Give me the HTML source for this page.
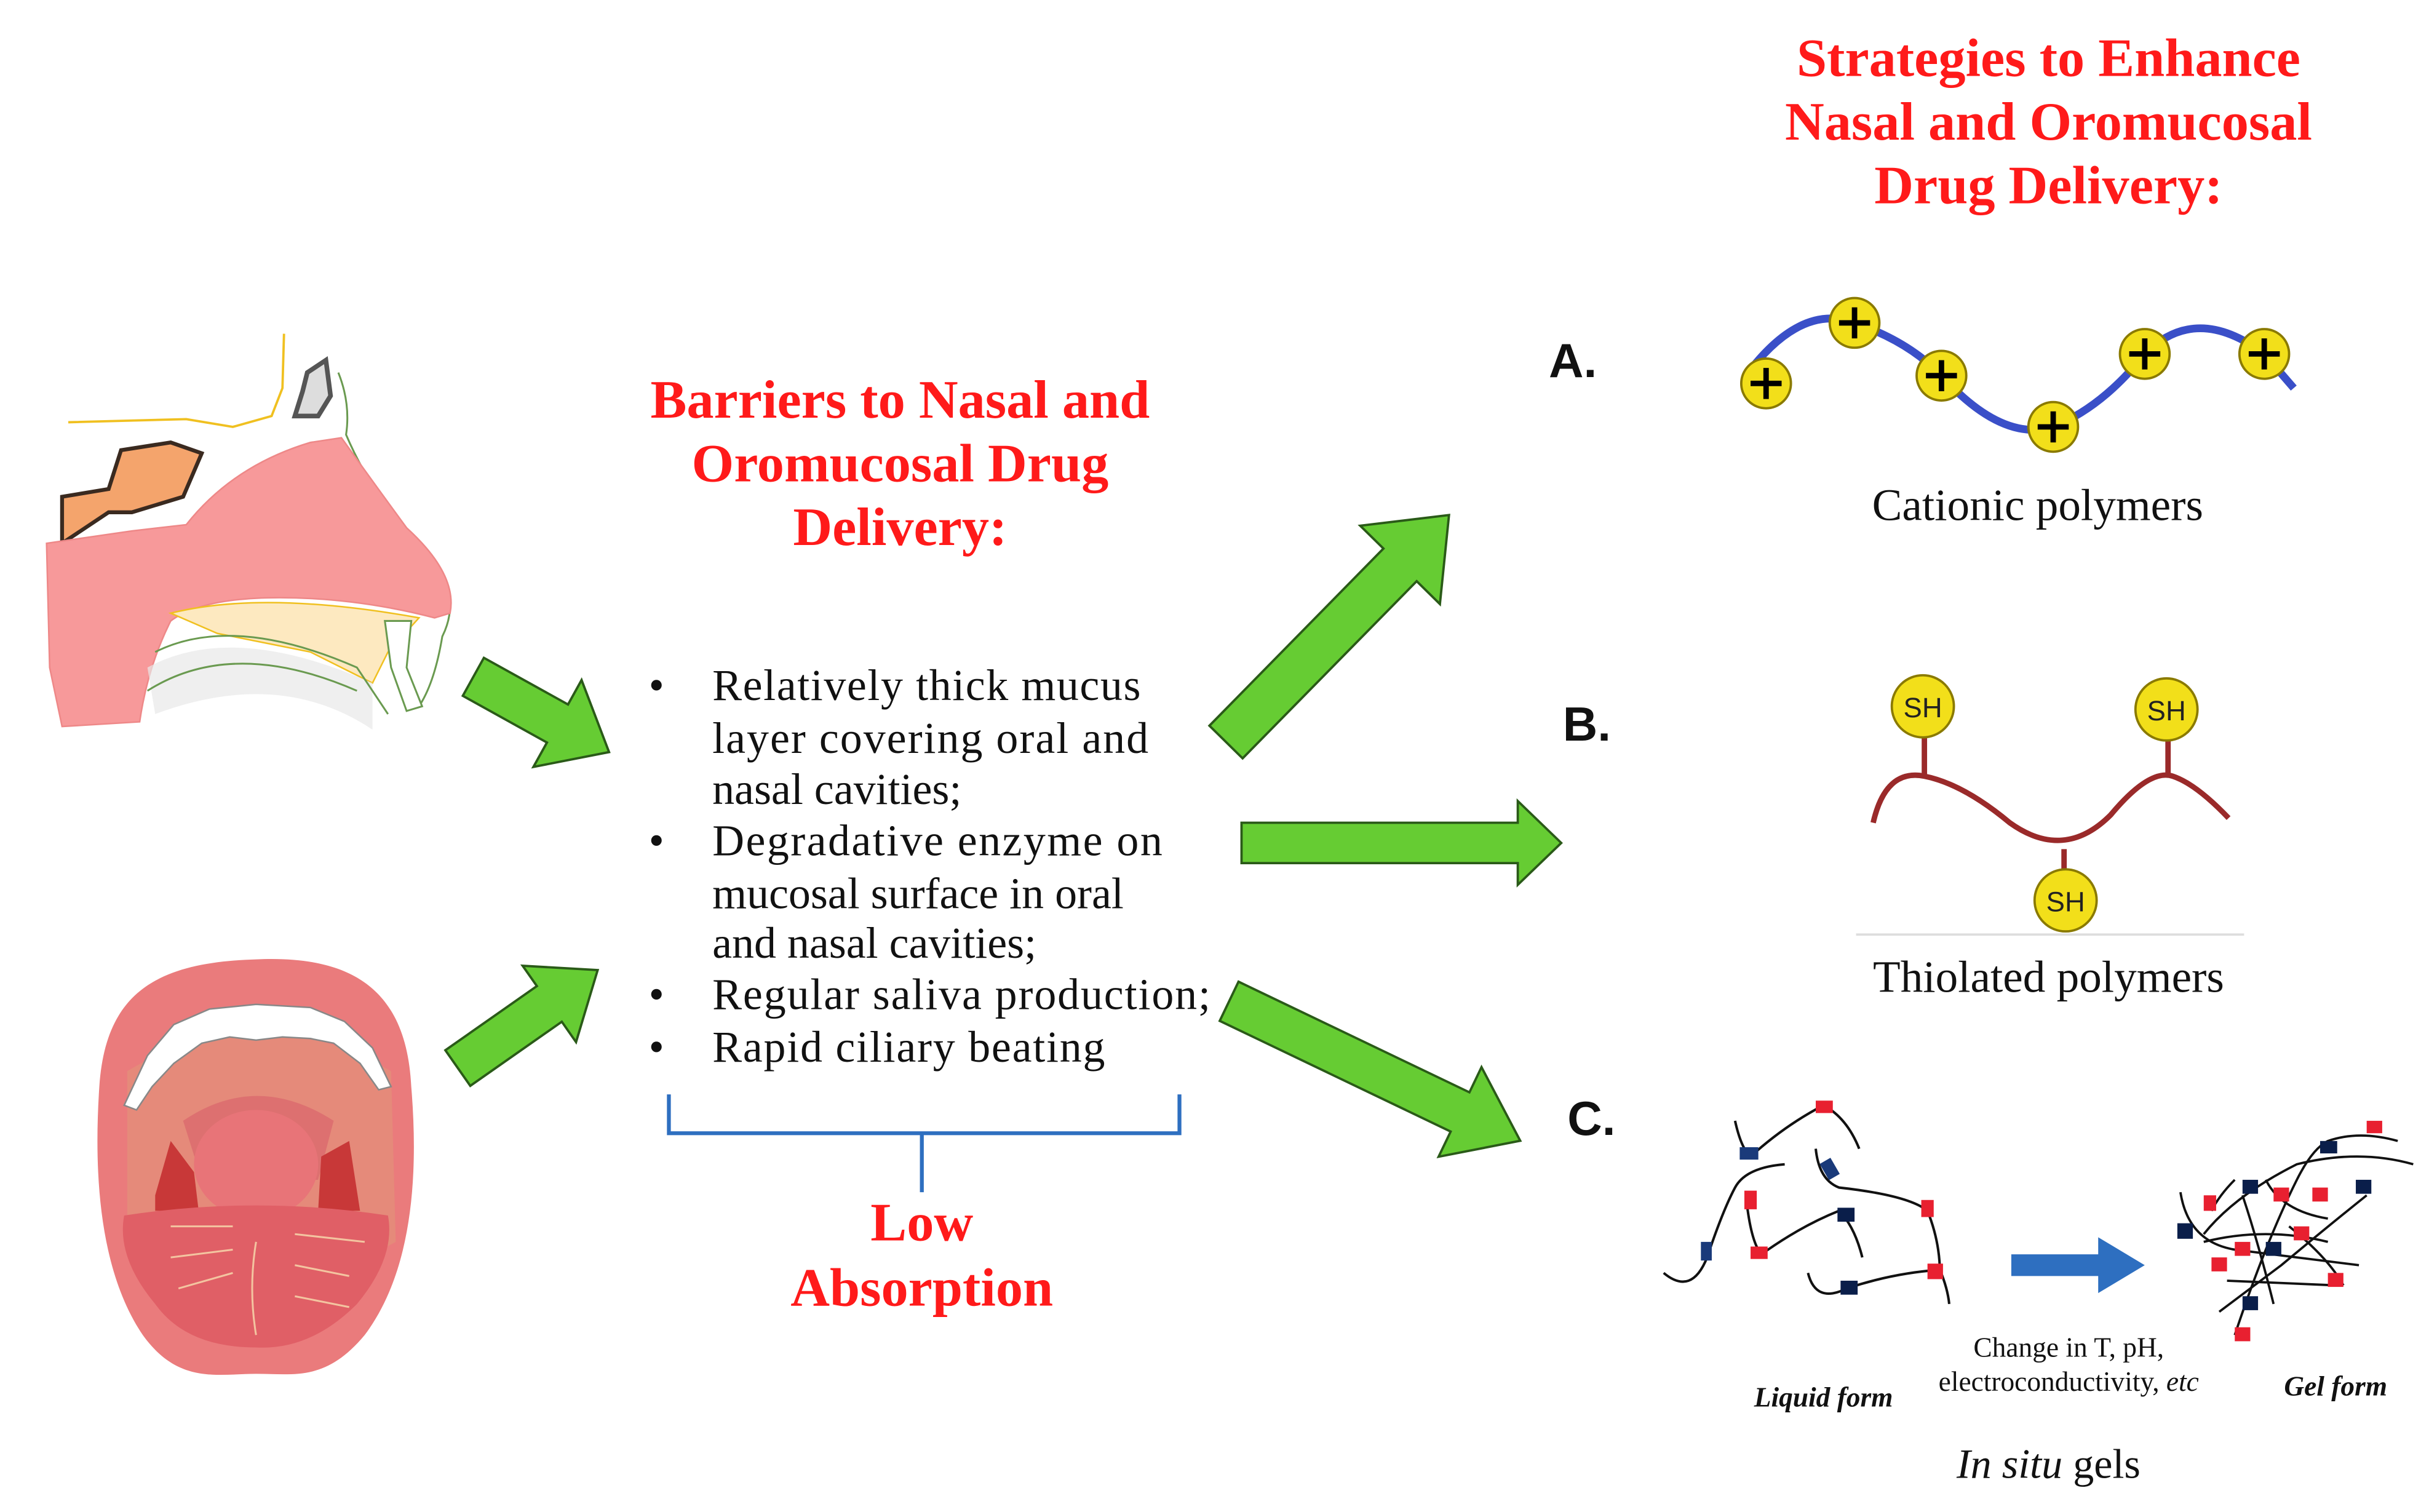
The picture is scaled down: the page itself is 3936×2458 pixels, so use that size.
<!DOCTYPE html>
<html><head><meta charset="utf-8"><style>
html,body{margin:0;padding:0;background:#fff;}
svg{display:block;}
.t{font-family:"Liberation Serif",serif;}
.rb{font-family:"Liberation Serif",serif;font-weight:bold;fill:#ff1a1a;font-size:35px;text-anchor:middle;}
.bl{font-family:"Liberation Serif",serif;font-size:28.5px;fill:#111;}
.lab{font-family:"Liberation Sans",sans-serif;font-weight:bold;font-size:31px;fill:#111;}
</style></head><body>
<svg width="3936" height="2458" viewBox="0 0 1560 974" preserveAspectRatio="none" xmlns="http://www.w3.org/2000/svg">
<rect width="1560" height="974" fill="#fff"/>

<!-- Nasal illustration -->
<g>
<path d="M44,272 L120,270 L150,275 L175,268 L182,250 L183,215" fill="none" stroke="#f0c020" stroke-width="1.5"/>
<path d="M198,240 L210,232 L213,255 L205,268 L190,268 L195,252 Z" fill="#ddd" stroke="#555" stroke-width="3"/>
<path d="M218,240 Q226,260 223,280 Q240,320 270,350 Q300,380 285,410 Q280,440 270,455" fill="none" stroke="#6a9a50" stroke-width="1.2"/>
<path d="M40,350 L40,320 L70,315 L78,290 L110,285 L130,292 L118,320 L85,330 L70,330 Z" fill="#f4a46c" stroke="#3a2a20" stroke-width="2.5"/>
<path d="M30,350 L85,342 L120,338 Q150,300 200,285 L220,282 Q240,310 262,340 Q295,370 290,395 L280,398 Q230,385 180,385 Q130,385 110,400 Q95,430 90,465 L40,468 L32,430 Z" fill="#f7999a" stroke="#e88" stroke-width="1"/>
<path d="M110,395 Q170,380 270,398 L250,420 L240,440 L200,420 L140,408 Z" fill="#fde9c0" stroke="#f0c020" stroke-width="1"/>
<path d="M95,430 Q150,400 240,440 L240,470 Q180,430 100,460 Z" fill="#e8e8e8" opacity="0.7"/>
<path d="M100,420 Q150,395 230,430 L250,460 M95,445 Q150,410 230,445" fill="none" stroke="#6a9a50" stroke-width="1.2"/>
<path d="M248,400 L265,400 L262,430 L272,455 L262,458 L252,430 Z" fill="#fff" stroke="#6a9a50" stroke-width="1.2"/>
</g>

<!-- Mouth illustration -->
<g>
<path d="M165,618 C230,615 262,640 265,700 C270,760 265,820 235,860 C210,890 190,885 165,885 C140,885 115,892 92,860 C65,820 60,760 64,700 C68,640 100,620 165,618 Z" fill="#ea7b7c"/>
<path d="M82,690 Q165,640 252,690 L255,800 Q200,830 165,830 Q120,830 82,800 Z" fill="#e58a7a"/>
<path d="M80,712 L95,680 L112,660 L135,650 L165,647 L200,649 L222,658 L240,675 L252,700 L244,702 L232,685 L215,672 L200,669 L182,668 L165,670 L148,668 L130,672 L112,685 L98,700 L88,715 Z" fill="#fff" stroke="#888" stroke-width="1"/>
<path d="M118,722 Q165,690 215,722 L205,760 L130,760 Z" fill="#dd7070"/>
<ellipse cx="165" cy="750" rx="40" ry="35" fill="#e87478"/>
<path d="M100,770 L110,735 L125,755 L128,780 L100,780 Z" fill="#c83838"/>
<path d="M205,780 L207,745 L225,735 L232,780 Z" fill="#c83838"/>
<path d="M80,783 Q165,770 250,783 Q255,810 230,840 Q200,870 165,868 Q120,868 100,840 Q75,810 80,783 Z" fill="#e05f66"/>
<path d="M165,800 Q160,830 165,860 M110,790 L150,790 M110,810 L150,805 M115,830 L150,820 M190,795 L235,800 M190,815 L225,822 M190,835 L225,842" fill="none" stroke="#f3c4a0" stroke-width="1.2"/>
</g>

<!-- Green arrows -->
<g fill="#66cc33" stroke="#2a5a18" stroke-width="1.5">
<polygon transform="translate(305,436) rotate(29)" points="0,-14 62,-14 62,-32 100,0 62,32 62,14 0,14"/>
<polygon transform="translate(295,688) rotate(-35)" points="0,-14 72,-14 72,-30 110,0 72,30 72,14 0,14"/>
<polygon transform="translate(790,478) rotate(-45.5)" points="0,-15 160,-15 160,-36 205,0 160,36 160,15 0,15"/>
<polygon transform="translate(800,543) rotate(0)" points="0,-13 178,-13 178,-27 206,0 178,27 178,13 0,13"/>
<polygon transform="translate(792,645) rotate(25.6)" points="0,-14 165,-14 165,-32 208,0 165,32 165,14 0,14"/>
</g>

<!-- Center texts -->
<text class="rb" x="580" y="269">Barriers to Nasal and</text>
<text class="rb" x="580" y="310">Oromucosal Drug</text>
<text class="rb" x="580" y="351">Delivery:</text>

<g class="bl">
<text x="418" y="451">•</text><text x="459" y="451" textLength="276" lengthAdjust="spacing">Relatively thick mucus</text>
<text x="459" y="485" textLength="281" lengthAdjust="spacing">layer covering oral and</text>
<text x="459" y="518">nasal cavities;</text>
<text x="418" y="551">•</text><text x="459" y="551" textLength="290" lengthAdjust="spacing">Degradative enzyme on</text>
<text x="459" y="585">mucosal surface in oral</text>
<text x="459" y="617">and nasal cavities;</text>
<text x="418" y="650">•</text><text x="459" y="650" textLength="321" lengthAdjust="spacing">Regular saliva production;</text>
<text x="418" y="684">•</text><text x="459" y="684" textLength="253" lengthAdjust="spacing">Rapid ciliary beating</text>
</g>

<path d="M431,705 L431,730 L594,730 L594,768 M594,730 L760,730 L760,705" fill="none" stroke="#2e6fc0" stroke-width="2.5"/>
<text class="rb" x="594" y="799">Low</text>
<text class="rb" x="594" y="841">Absorption</text>

<!-- Right title -->
<text class="rb" x="1320" y="49">Strategies to Enhance</text>
<text class="rb" x="1320" y="90">Nasal and Oromucosal</text>
<text class="rb" x="1320" y="131">Drug Delivery:</text>

<text class="lab" x="998" y="243">A.</text>
<text class="lab" x="1007" y="477">B.</text>
<text class="lab" x="1010" y="731">C.</text>

<!-- Cationic polymer -->
<path d="M1125,242 Q1160,195 1195,208 Q1230,220 1251,242 Q1290,285 1323,275 Q1355,262 1382,228 Q1415,195 1459,228 L1478,250" fill="none" stroke="#3a4fc8" stroke-width="5"/>
<g fill="#f2df1a" stroke="#8a7a00" stroke-width="1.5">
<circle cx="1138" cy="247" r="16"/><circle cx="1195" cy="208" r="16"/><circle cx="1251" cy="242" r="16"/>
<circle cx="1323" cy="275" r="16"/><circle cx="1382" cy="228" r="16"/><circle cx="1459" cy="228" r="16"/>
</g>
<g stroke="#000" stroke-width="3.5">
<path d="M1128,247h20M1138,237v20 M1185,208h20M1195,198v20 M1241,242h20M1251,232v20 M1313,275h20M1323,265v20 M1372,228h20M1382,218v20 M1449,228h20M1459,218v20"/>
</g>
<text class="t" x="1313" y="335" font-size="29" text-anchor="middle" fill="#111">Cationic polymers</text>

<!-- Thiolated polymer -->
<path d="M1207,530 Q1215,495 1240,500 Q1265,505 1295,530 Q1330,555 1360,525 Q1385,495 1400,500 Q1415,505 1436,527" fill="none" stroke="#9a2a2a" stroke-width="3.5"/>
<path d="M1240,500 V473 M1397,500 V477 M1330,547 V562" stroke="#9a2a2a" stroke-width="3.5"/>
<g fill="#f2df1a" stroke="#8a7a00" stroke-width="1.5">
<circle cx="1239" cy="455" r="20"/><circle cx="1396" cy="457" r="20"/><circle cx="1331" cy="580" r="20"/>
</g>
<g font-family="Liberation Sans,sans-serif" font-size="18" text-anchor="middle" fill="#222">
<text x="1239" y="462">SH</text><text x="1396" y="464">SH</text><text x="1331" y="587">SH</text>
</g>
<line x1="1196" y1="602" x2="1446" y2="602" stroke="#ddd" stroke-width="1.5"/>
<text class="t" x="1320" y="639" font-size="29" text-anchor="middle" fill="#111">Thiolated polymers</text>

<!-- In situ gels: liquid -->
<g fill="none" stroke="#111" stroke-width="1.6">
<path d="M1118,722 Q1122,740 1128,745 Q1150,725 1175,712 Q1190,720 1198,740"/>
<path d="M1072,820 Q1090,835 1100,810 Q1110,780 1118,765 Q1125,752 1150,750"/>
<path d="M1170,740 Q1172,760 1185,765 Q1230,770 1242,780 Q1250,800 1250,820"/>
<path d="M1125,770 Q1128,800 1135,808 Q1160,790 1185,780 Q1195,790 1200,810"/>
<path d="M1165,820 Q1170,840 1190,830 Q1220,820 1250,818 Q1255,830 1256,840"/>
</g>
<g stroke="none">
<rect x="1121" y="739" width="12" height="8" fill="#1a3a7a"/>
<rect x="1170" y="709" width="11" height="8" fill="#e82030"/>
<rect x="1175" y="747" width="8" height="12" fill="#1a3a7a" transform="rotate(-30 1179 753)"/>
<rect x="1124" y="767" width="8" height="12" fill="#e82030"/>
<rect x="1096" y="800" width="7" height="12" fill="#1a3a7a"/>
<rect x="1128" y="803" width="11" height="8" fill="#e82030"/>
<rect x="1184" y="778" width="11" height="9" fill="#0a1e4a"/>
<rect x="1238" y="773" width="8" height="11" fill="#e82030"/>
<rect x="1186" y="825" width="11" height="9" fill="#0a1e4a"/>
<rect x="1242" y="814" width="10" height="10" fill="#e82030"/>
</g>
<polygon points="1296,808 1352,808 1352,797 1382,815 1352,833 1352,822 1296,822" fill="#2e6fc0"/>
<g fill="none" stroke="#111" stroke-width="1.5">
<path d="M1405,768 Q1410,800 1440,805 Q1480,810 1520,815"/>
<path d="M1420,795 Q1440,770 1480,750 Q1520,740 1555,750"/>
<path d="M1440,860 Q1460,800 1480,760 Q1490,740 1500,735 Q1520,728 1545,735"/>
<path d="M1430,845 Q1450,830 1470,815 Q1500,790 1525,770"/>
<path d="M1445,770 Q1455,800 1465,840 M1475,790 Q1500,810 1510,828 M1420,800 Q1460,790 1500,800 M1460,760 Q1470,780 1500,785"/>
<path d="M1435,825 L1505,828 M1425,780 Q1430,770 1440,760"/>
</g>
<g stroke="none">
<rect x="1403" y="788" width="10" height="10" fill="#0a1e4a"/>
<rect x="1420" y="770" width="8" height="10" fill="#e82030"/>
<rect x="1445" y="760" width="10" height="9" fill="#0a1e4a"/>
<rect x="1465" y="765" width="10" height="9" fill="#e82030"/>
<rect x="1495" y="735" width="11" height="8" fill="#0a1e4a"/>
<rect x="1525" y="722" width="10" height="8" fill="#e82030"/>
<rect x="1490" y="765" width="10" height="9" fill="#e82030"/>
<rect x="1518" y="760" width="10" height="9" fill="#0a1e4a"/>
<rect x="1440" y="800" width="10" height="9" fill="#e82030"/>
<rect x="1460" y="800" width="10" height="9" fill="#0a1e4a"/>
<rect x="1478" y="790" width="10" height="9" fill="#e82030"/>
<rect x="1500" y="820" width="10" height="9" fill="#e82030"/>
<rect x="1445" y="835" width="10" height="9" fill="#0a1e4a"/>
<rect x="1440" y="855" width="10" height="9" fill="#e82030"/>
<rect x="1425" y="810" width="10" height="9" fill="#e82030"/>
</g>
<g class="t" fill="#111" text-anchor="middle">
<text x="1333" y="874" font-size="18">Change in T, pH,</text>
<text x="1333" y="896" font-size="18">electroconductivity,  <tspan font-style="italic">etc</tspan></text>
<text x="1175" y="906" font-size="18" font-style="italic" font-weight="bold">Liquid form</text>
<text x="1505" y="899" font-size="18" font-style="italic" font-weight="bold">Gel form</text>
<text x="1320" y="952" font-size="27"><tspan font-style="italic">In situ</tspan> gels</text>
</g>
</svg>
</body></html>
